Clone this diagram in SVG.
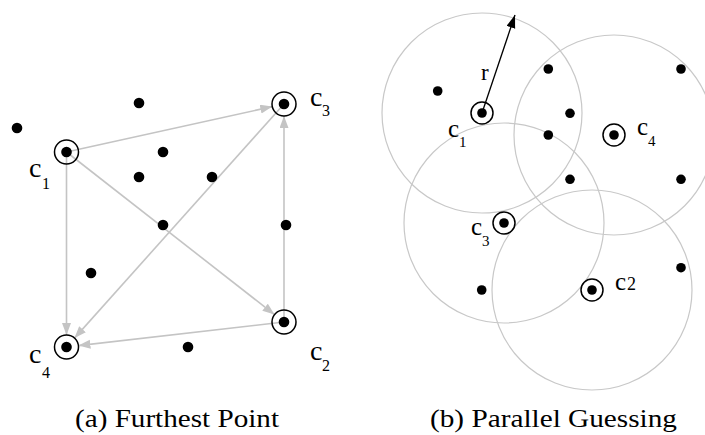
<svg xmlns="http://www.w3.org/2000/svg" width="705" height="435" viewBox="0 0 705 435">
  <style>
    .dot { fill: #000; }
    .ring { fill: none; stroke: #000; stroke-width: 1.5; }
    .edge { fill: none; stroke: #c4c4c4; stroke-width: 1.6; marker-end: url(#grayHead); }
    .ball { fill: none; stroke: #c8c8c8; stroke-width: 1.2; }
    .lbl { font-family: "Liberation Serif", "Times New Roman", serif; fill: #000; }
    .cap { font-family: "Liberation Serif", "DejaVu Serif", serif; font-size: 26px; fill: #000; }
  </style>
  <defs>
    <marker id="grayHead" markerUnits="userSpaceOnUse" markerWidth="13" markerHeight="10" refX="12" refY="4.5" orient="auto">
      <path d="M0,0 L12,4.5 L0,9 z" fill="#c4c4c4"/>
    </marker>
    <marker id="blackHead" markerUnits="userSpaceOnUse" markerWidth="14" markerHeight="10" refX="13" refY="4.5" orient="auto">
      <path d="M0,0 L13,4.5 L0,9 z" fill="#000"/>
    </marker>
  </defs>

  <!-- (a) furthest point: connectors -->
  <g id="edges-a">
    <line class="edge" x1="66.5" y1="152" x2="272.3" y2="106.6"/>
    <line class="edge" x1="66.5" y1="152" x2="274.5" y2="314.6"/>
    <line class="edge" x1="284" y1="322" x2="284" y2="116"/>
    <line class="edge" x1="66.5" y1="152" x2="66.5" y2="335"/>
    <line class="edge" x1="284" y1="104" x2="74.5" y2="338.1"/>
    <line class="edge" x1="284" y1="322" x2="78.4" y2="345.6"/>
  </g>

  <!-- (a) plain points -->
  <g id="points-a">
    <circle class="dot" cx="139" cy="103" r="5.3"/>
    <circle class="dot" cx="17" cy="128" r="5.3"/>
    <circle class="dot" cx="163" cy="152" r="5.3"/>
    <circle class="dot" cx="139" cy="177" r="5.3"/>
    <circle class="dot" cx="212" cy="177" r="5.3"/>
    <circle class="dot" cx="163" cy="225" r="5.3"/>
    <circle class="dot" cx="286" cy="225" r="5.3"/>
    <circle class="dot" cx="91" cy="273" r="5.3"/>
    <circle class="dot" cx="188" cy="347" r="5.3"/>
  </g>

  <!-- (a) chosen centres -->
  <g id="a-c1">
    <circle class="ring" cx="66.5" cy="152" r="12"/>
    <circle class="dot" cx="66.5" cy="152" r="5.3"/>
    <text class="lbl" x="29" y="177" font-size="28">c</text>
    <text class="lbl" x="42" y="189" font-size="16">1</text>
  </g>
  <g id="a-c3">
    <circle class="ring" cx="284" cy="104" r="12"/>
    <circle class="dot" cx="284" cy="104" r="5.3"/>
    <text class="lbl" x="310" y="106" font-size="28">c</text>
    <text class="lbl" x="322" y="116" font-size="16">3</text>
  </g>
  <g id="a-c2">
    <circle class="ring" cx="284" cy="322" r="12"/>
    <circle class="dot" cx="284" cy="322" r="5.3"/>
    <text class="lbl" x="310" y="360" font-size="28">c</text>
    <text class="lbl" x="322" y="371" font-size="16">2</text>
  </g>
  <g id="a-c4">
    <circle class="ring" cx="66.5" cy="347" r="12"/>
    <circle class="dot" cx="66.5" cy="347" r="5.3"/>
    <text class="lbl" x="29" y="363" font-size="28">c</text>
    <text class="lbl" x="42" y="378" font-size="16">4</text>
  </g>

  <!-- (b) parallel guessing: balls of radius r -->
  <g id="balls-b">
    <circle class="ball" cx="482" cy="113" r="100"/>
    <circle class="ball" cx="614" cy="135" r="100"/>
    <circle class="ball" cx="504" cy="223" r="100"/>
    <circle class="ball" cx="592" cy="290" r="100"/>
  </g>

  <!-- radius arrow -->
  <g id="radius">
    <line x1="482" y1="113" x2="515" y2="15" stroke="#000" stroke-width="1.3" marker-end="url(#blackHead)"/>
    <text class="lbl" x="481" y="80" font-size="23">r</text>
  </g>

  <!-- (b) plain points -->
  <g id="points-b">
    <circle class="dot" cx="437.7" cy="91" r="4.8"/>
    <circle class="dot" cx="548.3" cy="69" r="4.8"/>
    <circle class="dot" cx="570" cy="113.3" r="4.8"/>
    <circle class="dot" cx="548.3" cy="135" r="4.8"/>
    <circle class="dot" cx="570" cy="179.3" r="4.8"/>
    <circle class="dot" cx="681" cy="69" r="4.8"/>
    <circle class="dot" cx="681" cy="179.3" r="4.8"/>
    <circle class="dot" cx="481.7" cy="290" r="4.8"/>
    <circle class="dot" cx="681" cy="267.7" r="4.8"/>
  </g>

  <!-- (b) guessed centres -->
  <g id="b-c1">
    <circle class="ring" cx="482" cy="113" r="11"/>
    <circle class="dot" cx="482" cy="113" r="4.8"/>
    <text class="lbl" x="448" y="137" font-size="25">c</text>
    <text class="lbl" x="459" y="147" font-size="15">1</text>
  </g>
  <g id="b-c4">
    <circle class="ring" cx="614" cy="135" r="11"/>
    <circle class="dot" cx="614" cy="135" r="4.8"/>
    <text class="lbl" x="637" y="135" font-size="25">c</text>
    <text class="lbl" x="648" y="146" font-size="15">4</text>
  </g>
  <g id="b-c3">
    <circle class="ring" cx="504" cy="223" r="11"/>
    <circle class="dot" cx="504" cy="223" r="4.8"/>
    <text class="lbl" x="471" y="235" font-size="25">c</text>
    <text class="lbl" x="482" y="246" font-size="15">3</text>
  </g>
  <g id="b-c2">
    <circle class="ring" cx="592" cy="290" r="11"/>
    <circle class="dot" cx="592" cy="290" r="4.8"/>
    <text class="lbl" x="615" y="290" font-size="25">c</text>
    <text class="lbl" x="627" y="290" font-size="18">2</text>
  </g>

  <!-- captions -->
  <text class="cap" x="75" y="427" textLength="204" lengthAdjust="spacingAndGlyphs">(a) Furthest Point</text>
  <text class="cap" x="430" y="427" textLength="247" lengthAdjust="spacingAndGlyphs">(b) Parallel Guessing</text>
</svg>
